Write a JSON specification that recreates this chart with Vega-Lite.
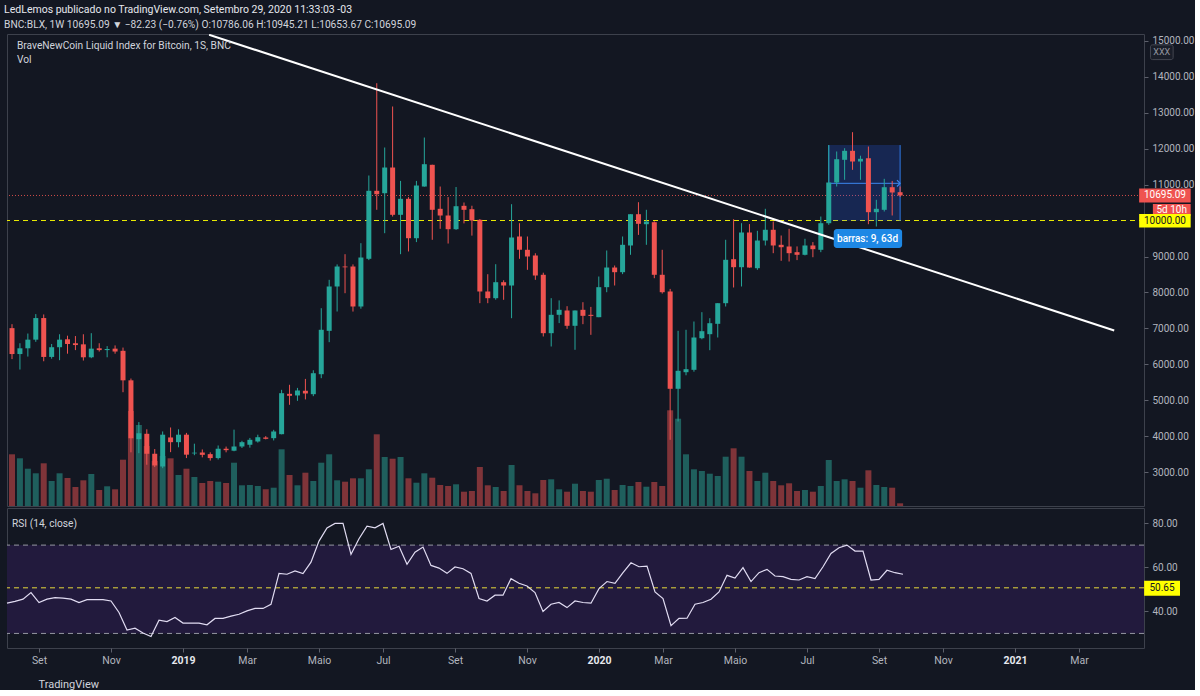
{
  "$schema": "https://vega.github.io/schema/vega-lite/v6.json",
  "background": "#131722",
  "padding": {"left": 4, "top": 4, "right": 0, "bottom": 0},
  "spacing": 0,
  "title": {
    "text": "LedLemos publicado no TradingView.com, Setembro 29, 2020 11:33:03 -03",
    "subtitle": "BNC:BLX, 1W 10695.09 ▼ −82.23 (−0.76%) O:10786.06 H:10945.21 L:10653.67 C:10695.09",
    "anchor": "start",
    "offset": 3.5,
    "font": "Roboto",
    "subtitleFont": "Roboto",
    "fontSize": 10.5,
    "subtitleFontSize": 10.2,
    "fontWeight": "normal",
    "color": "#e6e8ee",
    "subtitleColor": "#d1d4dc",
    "subtitlePadding": 4.5
  },
  "config": {
    "view": {"stroke": "#3d414c", "strokeWidth": 1},
    "font": "Roboto",
    "axis": {
      "labelColor": "#b2b5be",
      "labelFont": "Roboto",
      "labelFontSize": 10.5,
      "tickColor": "#5d606b",
      "domain": false,
      "grid": false,
      "labelOverlap": false
    },
    "text": {"font": "Roboto"}
  },
  "datasets": {
    "bars": [
      {"d":"2018-08-06","o":7010,"h":7120,"l":6150,"c":6290,"v":5170,"r":43.7},
      {"d":"2018-08-13","o":6290,"h":6590,"l":5860,"c":6450,"v":4770,"r":44.5},
      {"d":"2018-08-20","o":6450,"h":6860,"l":6220,"c":6690,"v":3730,"r":45.5},
      {"d":"2018-08-27","o":6690,"h":7400,"l":6630,"c":7290,"v":3270,"r":48.5},
      {"d":"2018-09-03","o":7290,"h":7390,"l":6090,"c":6210,"v":4270,"r":44.0},
      {"d":"2018-09-10","o":6210,"h":6570,"l":6160,"c":6480,"v":2500,"r":45.5},
      {"d":"2018-09-17","o":6480,"h":6840,"l":6120,"c":6690,"v":3270,"r":46.2},
      {"d":"2018-09-24","o":6700,"h":6800,"l":6300,"c":6570,"v":2800,"r":46.0},
      {"d":"2018-10-01","o":6590,"h":6790,"l":6400,"c":6540,"v":1900,"r":45.5},
      {"d":"2018-10-08","o":6560,"h":6840,"l":6110,"c":6200,"v":2570,"r":44.0},
      {"d":"2018-10-15","o":6200,"h":6870,"l":6175,"c":6440,"v":3200,"r":45.3},
      {"d":"2018-10-22","o":6450,"h":6590,"l":6360,"c":6400,"v":1600,"r":45.3},
      {"d":"2018-10-29","o":6400,"h":6510,"l":6200,"c":6430,"v":1970,"r":45.3},
      {"d":"2018-11-05","o":6440,"h":6530,"l":6300,"c":6360,"v":1670,"r":44.7},
      {"d":"2018-11-12","o":6380,"h":6470,"l":5230,"c":5560,"v":4630,"r":39.5},
      {"d":"2018-11-19","o":5560,"h":5610,"l":3560,"c":3950,"v":9500,"r":31.5},
      {"d":"2018-11-26","o":3925,"h":4400,"l":3536,"c":4090,"v":8100,"r":32.4},
      {"d":"2018-12-03","o":4075,"h":4200,"l":3215,"c":3520,"v":6000,"r":30.2},
      {"d":"2018-12-10","o":3520,"h":3650,"l":3150,"c":3195,"v":4500,"r":28.6},
      {"d":"2018-12-17","o":3167,"h":4140,"l":3120,"c":4050,"v":5000,"r":36.0},
      {"d":"2018-12-24","o":3973,"h":4250,"l":3565,"c":3842,"v":4770,"r":35.4},
      {"d":"2018-12-31","o":3842,"h":4200,"l":3700,"c":4050,"v":3100,"r":37.2},
      {"d":"2019-01-07","o":4050,"h":4100,"l":3400,"c":3495,"v":3730,"r":34.7},
      {"d":"2019-01-14","o":3530,"h":3800,"l":3480,"c":3550,"v":2900,"r":34.7},
      {"d":"2019-01-21","o":3555,"h":3640,"l":3420,"c":3490,"v":2300,"r":34.7},
      {"d":"2019-01-28","o":3510,"h":3560,"l":3330,"c":3400,"v":2500,"r":33.9},
      {"d":"2019-02-04","o":3400,"h":3750,"l":3360,"c":3660,"v":2430,"r":36.8},
      {"d":"2019-02-11","o":3660,"h":3720,"l":3560,"c":3620,"v":2300,"r":36.8},
      {"d":"2019-02-18","o":3605,"h":4190,"l":3590,"c":3722,"v":4330,"r":37.8},
      {"d":"2019-02-25","o":3722,"h":3880,"l":3680,"c":3842,"v":2070,"r":38.7},
      {"d":"2019-03-04","o":3770,"h":3960,"l":3690,"c":3908,"v":2100,"r":40.2},
      {"d":"2019-03-11","o":3861,"h":4050,"l":3830,"c":3980,"v":2000,"r":41.3},
      {"d":"2019-03-18","o":3972,"h":4010,"l":3920,"c":3935,"v":1670,"r":41.3},
      {"d":"2019-03-25","o":3953,"h":4185,"l":3890,"c":4139,"v":1830,"r":43.2},
      {"d":"2019-04-01","o":4064,"h":5296,"l":4060,"c":5203,"v":5670,"r":57.2},
      {"d":"2019-04-08","o":5185,"h":5436,"l":4880,"c":5130,"v":3100,"r":56.8},
      {"d":"2019-04-15","o":5140,"h":5350,"l":4990,"c":5278,"v":2070,"r":58.3},
      {"d":"2019-04-22","o":5270,"h":5600,"l":5030,"c":5195,"v":3330,"r":57.1},
      {"d":"2019-04-29","o":5175,"h":5840,"l":5120,"c":5758,"v":2500,"r":62.3},
      {"d":"2019-05-06","o":5730,"h":7564,"l":5620,"c":6964,"v":4330,"r":71.8},
      {"d":"2019-05-13","o":6935,"h":8352,"l":6620,"c":8167,"v":5170,"r":77.8},
      {"d":"2019-05-20","o":8167,"h":8780,"l":7472,"c":8722,"v":2570,"r":79.8},
      {"d":"2019-05-27","o":8722,"h":9064,"l":7980,"c":8700,"v":2430,"r":79.8},
      {"d":"2019-06-03","o":8722,"h":8780,"l":7470,"c":7611,"v":2770,"r":65.8},
      {"d":"2019-06-10","o":7611,"h":9370,"l":7550,"c":8972,"v":2770,"r":72.9},
      {"d":"2019-06-17","o":8936,"h":11250,"l":8900,"c":10825,"v":3670,"r":78.6},
      {"d":"2019-06-24","o":10825,"h":13814,"l":10297,"c":10730,"v":7170,"r":77.8},
      {"d":"2019-07-01","o":10758,"h":12028,"l":9647,"c":11472,"v":4900,"r":79.8},
      {"d":"2019-07-08","o":11472,"h":13167,"l":10110,"c":10158,"v":4730,"r":68.0},
      {"d":"2019-07-15","o":10158,"h":11100,"l":9064,"c":10603,"v":4900,"r":69.5},
      {"d":"2019-07-22","o":10603,"h":10650,"l":9140,"c":9508,"v":2770,"r":61.3},
      {"d":"2019-07-29","o":9508,"h":11100,"l":9400,"c":10972,"v":2330,"r":66.8},
      {"d":"2019-08-05","o":10944,"h":12305,"l":10940,"c":11564,"v":3270,"r":69.1},
      {"d":"2019-08-12","o":11547,"h":11550,"l":9464,"c":10297,"v":2830,"r":60.8},
      {"d":"2019-08-19","o":10325,"h":10944,"l":9769,"c":10139,"v":2100,"r":59.6},
      {"d":"2019-08-26","o":10139,"h":10650,"l":9360,"c":9758,"v":2000,"r":57.2},
      {"d":"2019-09-02","o":9758,"h":10930,"l":9740,"c":10397,"v":2170,"r":60.1},
      {"d":"2019-09-09","o":10408,"h":10500,"l":9920,"c":10297,"v":1430,"r":59.3},
      {"d":"2019-09-16","o":10314,"h":10410,"l":9580,"c":10000,"v":1500,"r":57.2},
      {"d":"2019-09-23","o":10019,"h":10040,"l":7703,"c":8028,"v":3900,"r":45.8},
      {"d":"2019-09-30","o":8028,"h":8508,"l":7703,"c":7842,"v":2070,"r":44.7},
      {"d":"2019-10-07","o":7842,"h":8786,"l":7800,"c":8286,"v":1900,"r":47.3},
      {"d":"2019-10-14","o":8286,"h":8340,"l":7797,"c":8194,"v":1500,"r":47.3},
      {"d":"2019-10-21","o":8194,"h":10453,"l":7286,"c":9528,"v":4100,"r":54.8},
      {"d":"2019-10-28","o":9556,"h":9925,"l":8936,"c":9186,"v":2070,"r":52.7},
      {"d":"2019-11-04","o":9186,"h":9556,"l":8630,"c":9000,"v":1500,"r":51.5},
      {"d":"2019-11-11","o":9028,"h":9090,"l":8352,"c":8472,"v":1270,"r":48.5},
      {"d":"2019-11-18","o":8492,"h":8550,"l":6778,"c":6870,"v":2600,"r":39.9},
      {"d":"2019-11-25","o":6870,"h":7842,"l":6500,"c":7380,"v":2670,"r":43.2},
      {"d":"2019-12-02","o":7380,"h":7780,"l":7150,"c":7519,"v":1670,"r":44.0},
      {"d":"2019-12-09","o":7500,"h":7620,"l":6990,"c":7075,"v":1430,"r":41.7},
      {"d":"2019-12-16","o":7075,"h":7500,"l":6408,"c":7500,"v":2230,"r":44.7},
      {"d":"2019-12-23","o":7519,"h":7730,"l":7120,"c":7352,"v":1500,"r":44.0},
      {"d":"2019-12-30","o":7380,"h":7600,"l":6824,"c":7350,"v":1430,"r":43.7},
      {"d":"2020-01-06","o":7314,"h":8444,"l":7314,"c":8148,"v":2600,"r":50.3},
      {"d":"2020-01-13","o":8148,"h":9167,"l":8008,"c":8694,"v":2730,"r":53.5},
      {"d":"2020-01-20","o":8694,"h":8750,"l":8194,"c":8564,"v":1600,"r":52.7},
      {"d":"2020-01-27","o":8564,"h":9556,"l":8510,"c":9325,"v":2100,"r":57.5},
      {"d":"2020-02-03","o":9306,"h":10175,"l":9047,"c":10175,"v":2000,"r":62.0},
      {"d":"2020-02-10","o":10175,"h":10508,"l":9600,"c":9908,"v":2400,"r":60.2},
      {"d":"2020-02-17","o":9897,"h":10297,"l":9325,"c":9972,"v":1930,"r":60.5},
      {"d":"2020-02-24","o":9953,"h":9980,"l":8397,"c":8492,"v":2400,"r":48.8},
      {"d":"2020-03-02","o":8492,"h":9186,"l":7970,"c":8008,"v":2000,"r":45.8},
      {"d":"2020-03-09","o":8028,"h":8100,"l":3908,"c":5325,"v":9570,"r":33.5},
      {"d":"2020-03-16","o":5325,"h":6936,"l":4417,"c":5825,"v":8730,"r":36.8},
      {"d":"2020-03-23","o":5786,"h":6964,"l":5700,"c":5870,"v":5170,"r":36.9},
      {"d":"2020-03-30","o":5852,"h":7194,"l":5800,"c":6750,"v":3670,"r":43.2},
      {"d":"2020-04-06","o":6730,"h":7453,"l":6700,"c":6925,"v":3500,"r":44.0},
      {"d":"2020-04-13","o":6842,"h":7286,"l":6397,"c":7147,"v":3230,"r":45.5},
      {"d":"2020-04-20","o":7130,"h":7703,"l":6750,"c":7703,"v":3000,"r":48.8},
      {"d":"2020-04-27","o":7703,"h":9464,"l":7611,"c":8908,"v":4930,"r":56.3},
      {"d":"2020-05-04","o":8925,"h":10036,"l":8139,"c":8703,"v":5770,"r":55.1},
      {"d":"2020-05-11","o":8703,"h":9925,"l":8167,"c":9667,"v":4930,"r":59.8},
      {"d":"2020-05-18","o":9667,"h":9900,"l":8690,"c":8694,"v":3500,"r":53.5},
      {"d":"2020-05-25","o":8675,"h":9714,"l":8630,"c":9444,"v":2500,"r":57.5},
      {"d":"2020-06-01","o":9444,"h":10325,"l":9306,"c":9742,"v":3330,"r":59.0},
      {"d":"2020-06-08","o":9742,"h":9972,"l":9092,"c":9306,"v":2500,"r":56.0},
      {"d":"2020-06-15","o":9325,"h":9583,"l":8880,"c":9258,"v":2070,"r":55.7},
      {"d":"2020-06-22","o":9278,"h":9769,"l":8861,"c":9092,"v":2270,"r":54.5},
      {"d":"2020-06-29","o":9120,"h":9280,"l":8900,"c":9047,"v":1500,"r":54.2},
      {"d":"2020-07-06","o":9047,"h":9492,"l":9030,"c":9306,"v":1600,"r":55.7},
      {"d":"2020-07-13","o":9306,"h":9400,"l":8980,"c":9203,"v":1430,"r":54.8},
      {"d":"2020-07-20","o":9186,"h":10110,"l":9120,"c":9925,"v":2000,"r":60.2},
      {"d":"2020-07-27","o":9925,"h":12095,"l":9880,"c":11055,"v":4600,"r":66.2},
      {"d":"2020-08-03","o":11055,"h":11917,"l":10944,"c":11703,"v":2500,"r":68.8},
      {"d":"2020-08-10","o":11686,"h":12008,"l":11130,"c":11936,"v":2670,"r":70.0},
      {"d":"2020-08-17","o":11936,"h":12453,"l":11408,"c":11639,"v":2500,"r":67.3},
      {"d":"2020-08-24","o":11639,"h":11800,"l":11130,"c":11714,"v":1830,"r":67.3},
      {"d":"2020-08-31","o":11730,"h":12055,"l":9897,"c":10231,"v":3570,"r":54.2},
      {"d":"2020-09-07","o":10231,"h":10575,"l":9833,"c":10325,"v":2100,"r":54.5},
      {"d":"2020-09-14","o":10297,"h":11158,"l":10250,"c":10925,"v":1900,"r":58.6},
      {"d":"2020-09-21","o":10925,"h":11100,"l":10139,"c":10778,"v":1830,"r":57.5},
      {"d":"2020-09-28","o":10786.06,"h":10945.21,"l":10653.67,"c":10695.09,"v":270,"r":56.8}
    ]
  },
  "vconcat": [
    {
      "width": 1137,
      "height": 472,
      "layer": [
        {
          "data": {"name": "bars"},
          "mark": {"type": "bar", "size": 6, "clip": true},
          "encoding": {
            "x": {"field": "d", "type": "temporal", "axis": null, "scale": {"type": "utc", "domain": [{"year": 2018, "month": 8, "date": 6, "utc": true}, {"year": 2021, "month": 4, "date": 26, "hours": 21, "utc": true}]}},
            "y": {"field": "v", "type": "quantitative", "axis": null, "scale": {"domain": [0, 47200], "nice": false}},
            "color": {"condition": {"test": "datum.c >= datum.o", "value": "#1f5f5d"}, "value": "#7f3439"}
          }
        },
        {
          "data": {"values": [{"p": 10695.09}]},
          "mark": {"type": "rule", "stroke": "#ef5350", "strokeDash": [1, 2], "opacity": 0.85},
          "encoding": {
            "y": {"field": "p", "type": "quantitative", "scale": {"domain": [2069, 15181], "nice": false, "zero": false},
              "axis": {"orient": "right", "values": [3000, 4000, 5000, 6000, 7000, 8000, 9000, 11000, 12000, 13000, 14000, 15000], "format": ".2f", "tickSize": 4, "labelPadding": 4, "labelOverlap": false, "labelFontSize": 10, "title": null}}
          }
        },
        {
          "data": {"values": [{"p": 10000}]},
          "mark": {"type": "rule", "stroke": "#ffff00", "strokeDash": [5, 4], "opacity": 0.9},
          "encoding": {"y": {"field": "p", "type": "quantitative", "axis": null, "scale": {"domain": [2069, 15181], "nice": false, "zero": false}}}
        },
        {
          "data": {"values": [{"d1": "2020-07-27", "d2": "2020-09-28", "p1": 9990, "p2": 12095}]},
          "mark": {"type": "rect", "color": "#2962ff", "opacity": 0.22},
          "encoding": {
            "x": {"field": "d1", "type": "temporal", "axis": null},
            "x2": {"field": "d2"},
            "y": {"field": "p1", "type": "quantitative", "axis": null, "scale": {"domain": [2069, 15181], "nice": false, "zero": false}},
            "y2": {"field": "p2"}
          }
        },
        {
          "data": {"values": [{"d": "2020-07-27", "p1": 9990, "p2": 12095}, {"d": "2020-09-28", "p1": 9990, "p2": 12095}]},
          "mark": {"type": "rule", "stroke": "#2f7ae5", "strokeWidth": 1},
          "encoding": {
            "x": {"field": "d", "type": "temporal", "axis": null},
            "y": {"field": "p1", "type": "quantitative", "axis": null, "scale": {"domain": [2069, 15181], "nice": false, "zero": false}},
            "y2": {"field": "p2"}
          }
        },
        {
          "data": {"values": [{"d1": "2020-07-27", "d2": "2020-09-28", "p": 11033}]},
          "mark": {"type": "rule", "stroke": "#3b86f0", "strokeWidth": 1},
          "encoding": {
            "x": {"field": "d1", "type": "temporal", "axis": null},
            "x2": {"field": "d2"},
            "y": {"field": "p", "type": "quantitative", "axis": null, "scale": {"domain": [2069, 15181], "nice": false, "zero": false}}
          }
        },
        {
          "data": {"values": [{"d": "2020-09-28", "p": 11033}]},
          "mark": {"type": "point", "shape": "M-1,-1L0,0L-1,1", "filled": false, "stroke": "#3b86f0", "strokeWidth": 1.2, "size": 40, "opacity": 1},
          "encoding": {
            "x": {"field": "d", "type": "temporal", "axis": null},
            "y": {"field": "p", "type": "quantitative", "axis": null, "scale": {"domain": [2069, 15181], "nice": false, "zero": false}}
          }
        },
        {
          "data": {"name": "bars"},
          "mark": {"type": "rule", "strokeWidth": 1, "clip": true},
          "encoding": {
            "x": {"field": "d", "type": "temporal", "axis": null},
            "y": {"field": "l", "type": "quantitative", "axis": null, "scale": {"domain": [2069, 15181], "nice": false, "zero": false}},
            "y2": {"field": "h"},
            "color": {"condition": {"test": "datum.c >= datum.o", "value": "#26a69a"}, "value": "#ef5350"}
          }
        },
        {
          "data": {"name": "bars"},
          "mark": {"type": "bar", "size": 5, "clip": true},
          "encoding": {
            "x": {"field": "d", "type": "temporal", "axis": null},
            "y": {"field": "o", "type": "quantitative", "axis": null, "scale": {"domain": [2069, 15181], "nice": false, "zero": false}},
            "y2": {"field": "c"},
            "color": {"condition": {"test": "datum.c >= datum.o", "value": "#26a69a"}, "value": "#ef5350"}
          }
        },
        {
          "data": {"values": [{"d": "2019-01-27", "p": 15160}, {"d": "2021-04-05", "p": 6945}]},
          "mark": {"type": "line", "color": "#ffffff", "strokeWidth": 2, "clip": true},
          "encoding": {
            "x": {"field": "d", "type": "temporal", "axis": null},
            "y": {"field": "p", "type": "quantitative", "axis": null, "scale": {"domain": [2069, 15181], "nice": false, "zero": false}}
          }
        },
        {
          "data": {"values": [{"d1": "2020-07-31T10:00:00Z", "d2": "2020-09-29T18:00:00Z", "p1": 9236, "p2": 9764}]},
          "mark": {"type": "rect", "color": "#1e88e5", "cornerRadius": 3},
          "encoding": {
            "x": {"field": "d1", "type": "temporal", "axis": null},
            "x2": {"field": "d2"},
            "y": {"field": "p1", "type": "quantitative", "axis": null, "scale": {"domain": [2069, 15181], "nice": false, "zero": false}},
            "y2": {"field": "p2"}
          }
        },
        {
          "data": {"values": [{"d": "2020-08-30T06:00:00Z", "p": 9500, "t": "barras: 9, 63d"}]},
          "mark": {"type": "text", "color": "#ffffff", "fontSize": 10, "fontWeight": 500, "align": "center", "baseline": "middle"},
          "encoding": {
            "x": {"field": "d", "type": "temporal", "axis": null},
            "y": {"field": "p", "type": "quantitative", "axis": null, "scale": {"domain": [2069, 15181], "nice": false, "zero": false}},
            "text": {"field": "t"}
          }
        },
        {
          "data": {"values": [{"d": "2018-08-10T10:00:00Z", "p": 14847, "t": "BraveNewCoin Liquid Index for Bitcoin, 1S, BNC"}, {"d": "2018-08-10T10:00:00Z", "p": 14458, "t": "Vol"}]},
          "mark": {"type": "text", "color": "#d1d4dc", "fontSize": 10.2, "align": "left", "baseline": "middle"},
          "encoding": {
            "x": {"field": "d", "type": "temporal", "axis": null},
            "y": {"field": "p", "type": "quantitative", "axis": null, "scale": {"domain": [2069, 15181], "nice": false, "zero": false}},
            "text": {"field": "t"}
          }
        },
        {
          "data": {"values": [{"d1": "2021-05-07T00:00:00Z", "d2": "2021-05-27T00:00:00Z", "p1": 14470, "p2": 14880}]},
          "mark": {"type": "rect", "fill": "#1a1e29", "stroke": "#434651", "strokeWidth": 1, "cornerRadius": 2},
          "encoding": {
            "x": {"field": "d1", "type": "temporal", "axis": null},
            "x2": {"field": "d2"},
            "y": {"field": "p1", "type": "quantitative", "axis": null, "scale": {"domain": [2069, 15181], "nice": false, "zero": false}},
            "y2": {"field": "p2"}
          }
        },
        {
          "data": {"values": [{"d": "2021-05-17T00:00:00Z", "p": 14675, "t": "XXX"}]},
          "mark": {"type": "text", "color": "#9598a1", "fontSize": 9, "align": "center", "baseline": "middle"},
          "encoding": {
            "x": {"field": "d", "type": "temporal", "axis": null},
            "y": {"field": "p", "type": "quantitative", "axis": null, "scale": {"domain": [2069, 15181], "nice": false, "zero": false}},
            "text": {"field": "t"}
          }
        },
        {
          "data": {"values": [
            {"d1": "2021-04-27T00:00:00Z", "d2": "2021-06-11T12:00:00Z", "p1": 10890, "p2": 10500},
            {"d1": "2021-05-09T03:00:00Z", "d2": "2021-06-11T12:00:00Z", "p1": 10458, "p2": 10125}
          ]},
          "mark": {"type": "rect", "color": "#ef5350"},
          "encoding": {
            "x": {"field": "d1", "type": "temporal", "axis": null},
            "x2": {"field": "d2"},
            "y": {"field": "p1", "type": "quantitative", "axis": null, "scale": {"domain": [2069, 15181], "nice": false, "zero": false}},
            "y2": {"field": "p2"}
          }
        },
        {
          "data": {"values": [
            {"d1": "2021-04-27T00:00:00Z", "d2": "2021-06-11T12:00:00Z", "p1": 10180, "p2": 9805}
          ]},
          "mark": {"type": "rect", "color": "#ffff00"},
          "encoding": {
            "x": {"field": "d1", "type": "temporal", "axis": null},
            "x2": {"field": "d2"},
            "y": {"field": "p1", "type": "quantitative", "axis": null, "scale": {"domain": [2069, 15181], "nice": false, "zero": false}},
            "y2": {"field": "p2"}
          }
        },
        {
          "data": {"values": [
            {"d": "2021-05-19T18:00:00Z", "p": 10695.09, "t": "10695.09"},
            {"d": "2021-05-25T18:00:00Z", "p": 10291, "t": "5d 10h"}
          ]},
          "mark": {"type": "text", "color": "#ffffff", "fontSize": 10, "align": "center", "baseline": "middle"},
          "encoding": {
            "x": {"field": "d", "type": "temporal", "axis": null},
            "y": {"field": "p", "type": "quantitative", "axis": null, "scale": {"domain": [2069, 15181], "nice": false, "zero": false}},
            "text": {"field": "t"}
          }
        },
        {
          "data": {"values": [
            {"d": "2021-05-19T18:00:00Z", "p": 9993, "t": "10000.00"}
          ]},
          "mark": {"type": "text", "color": "#131722", "fontSize": 10, "align": "center", "baseline": "middle"},
          "encoding": {
            "x": {"field": "d", "type": "temporal", "axis": null},
            "y": {"field": "p", "type": "quantitative", "axis": null, "scale": {"domain": [2069, 15181], "nice": false, "zero": false}},
            "text": {"field": "t"}
          }
        }
      ],
      "resolve": {"scale": {"y": "independent"}}
    },
    {
      "width": 1137,
      "height": 140,
      "layer": [
        {
          "data": {"values": [{"lo": 30, "hi": 70}]},
          "mark": {"type": "rect", "color": "#221a3d"},
          "encoding": {
            "y": {"field": "lo", "type": "quantitative", "scale": {"domain": [23.4, 86.8], "nice": false, "zero": false},
              "axis": {"orient": "right", "values": [40, 60, 80], "format": ".2f", "tickSize": 4, "labelPadding": 4, "labelOverlap": false, "labelFontSize": 10, "title": null}},
            "y2": {"field": "hi"}
          }
        },
        {
          "data": {"values": [{"r": 70}, {"r": 30}]},
          "mark": {"type": "rule", "stroke": "#9598a1", "strokeDash": [5, 4]},
          "encoding": {"y": {"field": "r", "type": "quantitative"}}
        },
        {
          "data": {"values": [{"r": 50.65}]},
          "mark": {"type": "rule", "stroke": "#e6d93a", "strokeDash": [5, 4]},
          "encoding": {"y": {"field": "r", "type": "quantitative"}}
        },
        {
          "data": {"name": "bars"},
          "mark": {"type": "line", "color": "#e1dcf2", "strokeWidth": 1.2},
          "encoding": {
            "x": {"field": "d", "type": "temporal",
              "scale": {"type": "utc", "domain": [{"year": 2018, "month": 8, "date": 6, "utc": true}, {"year": 2021, "month": 4, "date": 26, "hours": 21, "utc": true}]},
              "axis": {
                "values": [
                  {"year": 2018, "month": 9, "date": 3, "utc": true},
                  {"year": 2018, "month": 11, "date": 5, "utc": true},
                  {"year": 2019, "month": 1, "date": 7, "utc": true},
                  {"year": 2019, "month": 3, "date": 4, "utc": true},
                  {"year": 2019, "month": 5, "date": 6, "utc": true},
                  {"year": 2019, "month": 7, "date": 1, "utc": true},
                  {"year": 2019, "month": 9, "date": 2, "utc": true},
                  {"year": 2019, "month": 11, "date": 4, "utc": true},
                  {"year": 2020, "month": 1, "date": 6, "utc": true},
                  {"year": 2020, "month": 3, "date": 2, "utc": true},
                  {"year": 2020, "month": 5, "date": 4, "utc": true},
                  {"year": 2020, "month": 7, "date": 6, "utc": true},
                  {"year": 2020, "month": 9, "date": 7, "utc": true},
                  {"year": 2020, "month": 11, "date": 2, "utc": true},
                  {"year": 2021, "month": 1, "date": 4, "utc": true},
                  {"year": 2021, "month": 3, "date": 1, "utc": true}
                ],
                "labelExpr": "utcmonth(datum.value) == 0 ? utcyear(datum.value) + '' : ['Jan','Fev','Mar','Abr','Maio','Jun','Jul','Ago','Set','Out','Nov','Dez'][utcmonth(datum.value)]",
                "labelColor": {"condition": {"test": "utcmonth(datum.value) == 0", "value": "#e6e8ee"}, "value": "#b2b5be"},
                "labelFontWeight": {"condition": {"test": "utcmonth(datum.value) == 0", "value": "bold"}, "value": "normal"},
                "labelOverlap": false,
                "tickSize": 4,
                "labelPadding": 3,
                "title": "TradingView",
                "titleColor": "#d1d4dc",
                "titleFont": "Roboto",
                "titleFontSize": 11,
                "titleFontWeight": "normal",
                "titleAnchor": "start",
                "titleAlign": "left",
                "titleBaseline": "middle",
                "titleX": 31,
                "titleY": 36
              }
            },
            "y": {"field": "r", "type": "quantitative"}
          }
        },
        {
          "data": {"values": [{"d1": "2021-04-27T00:00:00Z", "d2": "2021-05-28T09:00:00Z", "r1": 47.1, "r2": 53.9}]},
          "mark": {"type": "rect", "color": "#ffff00"},
          "encoding": {
            "x": {"field": "d1", "type": "temporal"},
            "x2": {"field": "d2"},
            "y": {"field": "r1", "type": "quantitative"},
            "y2": {"field": "r2"}
          }
        },
        {
          "data": {"values": [{"d": "2021-05-12T15:00:00Z", "r": 50.65, "t": "50.65"}]},
          "mark": {"type": "text", "color": "#131722", "fontSize": 10, "align": "center", "baseline": "middle"},
          "encoding": {
            "x": {"field": "d", "type": "temporal"},
            "y": {"field": "r", "type": "quantitative"},
            "text": {"field": "t"}
          }
        },
        {
          "data": {"values": [{"d": "2018-08-10T10:00:00Z", "r": 79.6, "t": "RSI (14, close)"}]},
          "mark": {"type": "text", "color": "#d1d4dc", "fontSize": 10.2, "align": "left", "baseline": "middle"},
          "encoding": {
            "x": {"field": "d", "type": "temporal"},
            "y": {"field": "r", "type": "quantitative"},
            "text": {"field": "t"}
          }
        }
      ]
    }
  ]
}
